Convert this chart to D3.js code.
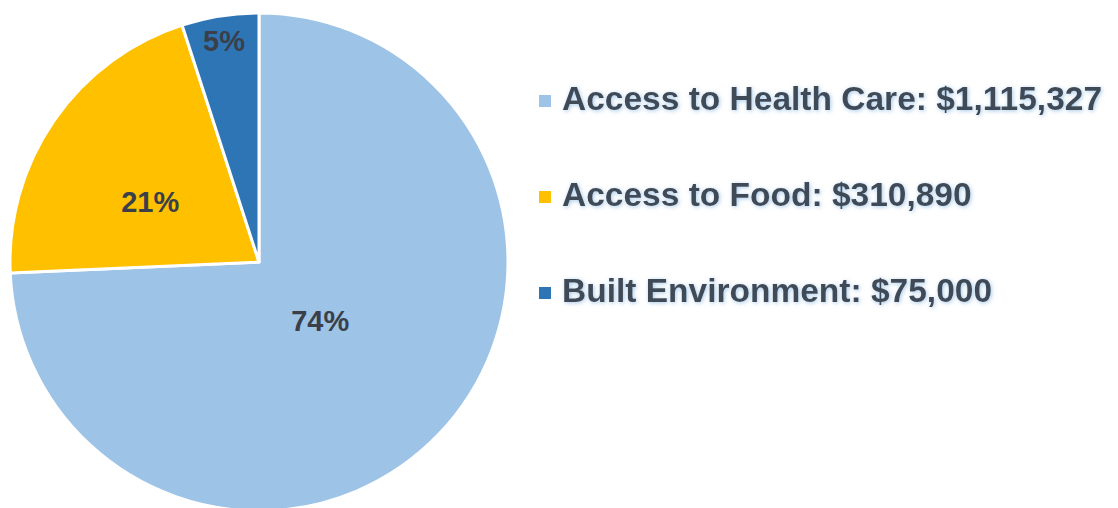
<!DOCTYPE html>
<html>
<head>
<meta charset="utf-8">
<script src="https://cdn.jsdelivr.net/npm/d3@7"></script>
<style>
  html, body { margin: 0; padding: 0; background: #ffffff; }
  svg { display: block; }
</style>
</head>
<body>
<svg id="chart" width="1118" height="508"></svg>
<script>
// Funding by category
const categories = ["Access to Health Care", "Access to Food", "Built Environment"];
const amounts = [1115327, 310890, 75000];
const percentLabels = ["74%", "21%", "5%"];
const colors = ["#9DC3E6", "#FFC000", "#2E75B6"];

const svg = d3.select("#chart");

// Soft blue halo behind the legend text
const defs = svg.append("defs");
const glow = defs.append("filter").attr("id", "glow")
  .attr("x", "-10%").attr("y", "-40%").attr("width", "120%").attr("height", "180%");
glow.append("feGaussianBlur").attr("in", "SourceAlpha").attr("stdDeviation", 2.2).attr("result", "blur");
glow.append("feFlood").attr("flood-color", "#9DC3E6").attr("flood-opacity", 0.9).attr("result", "col");
glow.append("feComposite").attr("in", "col").attr("in2", "blur").attr("operator", "in").attr("result", "shadow");
glow.append("feOffset").attr("in", "shadow").attr("dx", 1).attr("dy", 1).attr("result", "off");
const merge = glow.append("feMerge");
merge.append("feMergeNode").attr("in", "off");
merge.append("feMergeNode").attr("in", "SourceGraphic");

const cx = 259, cy = 262, r = 249;

const data = categories.map((c, i) => ({ name: c, value: amounts[i], label: percentLabels[i], color: colors[i] }));

const pie = d3.pie().sort(null).value(d => d.value);
const arcs = pie(data);
const arc = d3.arc().innerRadius(0).outerRadius(r);

const g = svg.append("g").attr("transform", `translate(${cx},${cy})`);

g.selectAll("path.slice")
  .data(arcs)
  .enter().append("path")
  .attr("class", "slice")
  .attr("d", arc)
  .attr("fill", d => d.data.color)
  .attr("stroke", "#ffffff")
  .attr("stroke-width", 3)
  .attr("stroke-linejoin", "round");

// Percentage labels placed near each slice's bisector
const labelRadius = [0.34, 0.50, 0.90];
const labelAngleShift = [0, -5.7 * Math.PI / 180, 0];
g.selectAll("text.pct")
  .data(arcs)
  .enter().append("text")
  .attr("class", "pct")
  .attr("transform", (d, i) => {
    const a = (d.startAngle + d.endAngle) / 2 + labelAngleShift[i];
    const rr = r * labelRadius[i];
    return `translate(${Math.sin(a) * rr},${-Math.cos(a) * rr})`;
  })
  .attr("text-anchor", "middle")
  .attr("dy", "0.36em")
  .style("font-family", "'Liberation Sans', Arial, sans-serif")
  .style("font-weight", "bold")
  .style("font-size", "29px")
  .attr("fill", "#3a3f4a")
  .text(d => d.data.label);

// Legend
const fmt = d3.format("$,");
const legendX = 539, legendY0 = 110, legendStep = 96;
const legend = svg.append("g").attr("class", "legend");
const rows = legend.selectAll("g.row")
  .data(data)
  .enter().append("g")
  .attr("class", "row")
  .attr("transform", (d, i) => `translate(${legendX},${legendY0 + i * legendStep})`);

rows.append("rect")
  .attr("x", 0).attr("y", -15)
  .attr("width", 12).attr("height", 12)
  .attr("fill", d => d.color);

rows.append("text")
  .attr("x", 23)
  .attr("filter", "url(#glow)")
  .style("font-family", "'Liberation Sans', Arial, sans-serif")
  .style("font-weight", "bold")
  .style("font-size", "33.5px")
  .attr("fill", "#414a57")
  .text(d => `${d.name}: ${fmt(d.value)}`);
</script>
</body>
</html>
